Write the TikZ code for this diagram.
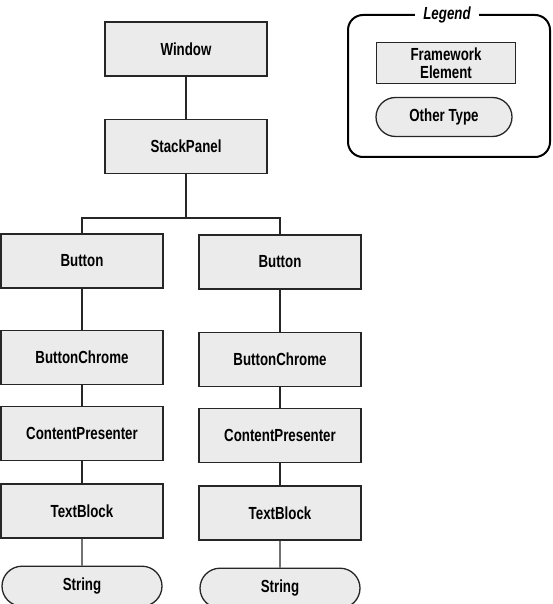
\documentclass[tikz,border=0pt]{standalone}
\usepackage{fontspec}
\setmainfont{Liberation Sans}[FakeStretch=0.76]
\usepackage{tikz}
\usetikzlibrary{positioning,shapes.misc}
\definecolor{boxgray}{RGB}{235,235,235}

\begin{document}
\begin{tikzpicture}[
  x=1pt, y=-1pt,
  font=\fontsize{17.5}{18}\selectfont\bfseries,
  element/.style={rectangle, draw=black!85, fill=boxgray, line width=1.3pt,
    minimum width=162pt, minimum height=54pt, align=center, inner sep=2pt},
  other/.style={rounded rectangle, draw=black!85, fill=boxgray, line width=1.3pt,
    minimum width=164pt, minimum height=40pt, inner sep=2pt},
  link/.style={draw=black!85, line width=1.3pt}
]
\useasboundingbox (0,0) rectangle (552,604);

% Root
\node[element] (window) at (186,49) {Window};
\node[element, below=42pt of window] (stack) {StackPanel};

% Left branch
\node[element] (btnA) at (82,261) {Button};
\node[element, below=41pt of btnA] (chromeA) {ButtonChrome};
\node[element, below=21pt of chromeA] (presA) {ContentPresenter};
\node[element, below=22pt of presA] (textA) {TextBlock};
\node[other, below=27pt of textA] (strA) {String};

% Right branch
\node[element] (btnB) at (280,262) {Button};
\node[element, below=42pt of btnB] (chromeB) {ButtonChrome};
\node[element, below=21pt of chromeB] (presB) {ContentPresenter};
\node[element, below=22pt of presB] (textB) {TextBlock};
\node[other, below=27pt of textB] (strB) {String};

% Legend
\node[draw=black, line width=2pt, rounded corners=15pt,
  minimum width=202pt, minimum height=142pt] (legend) at (449,86) {};
\node[fill=white, inner xsep=8pt, inner ysep=1pt,
  font=\fontsize{17.5}{18}\selectfont\bfseries\itshape] (legtitle) at (447,15) {Legend};
\node[element, minimum width=139pt, minimum height=41pt] (legelem) at (446,63)
  {Framework\\Element};
\node[other, minimum width=140pt, minimum height=39pt] (legother) at (444,117)
  {Other Type};

% Links
\coordinate (fork) at (186,218);
\draw[link] (window) -- (stack);
\draw[link] (stack) -- (fork);
\draw[link] (btnA.north) |- (fork) -| (btnB.north);
\draw[link] (btnA) -- (chromeA);
\draw[link] (chromeA) -- (presA);
\draw[link] (presA) -- (textA);
\draw[link] (textA) -- (strA);
\draw[link] (btnB) -- (chromeB);
\draw[link] (chromeB) -- (presB);
\draw[link] (presB) -- (textB);
\draw[link] (textB) -- (strB);
\end{tikzpicture}
\end{document}
